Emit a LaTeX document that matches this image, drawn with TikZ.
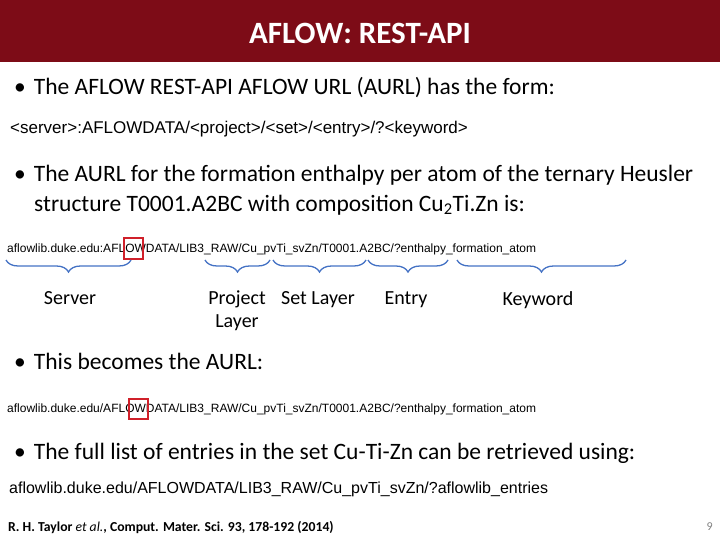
\documentclass[tikz,border=0pt]{standalone}
\usepackage{fontspec}
\setmainfont{Carlito}
\newfontfamily\urlf{Liberation Sans}
\usetikzlibrary{decorations.pathreplacing}
\definecolor{titlered}{HTML}{7D0C17}
\definecolor{braceblue}{HTML}{4472C4}
\definecolor{boxred}{HTML}{D0202A}
\begin{document}
\begin{tikzpicture}[x=1pt,y=-1pt,
  bul/.style={anchor=west,font=\fontsize{23.5}{30}\selectfont,inner sep=0},
  url/.style={anchor=west,font=\urlf\fontsize{12}{13}\selectfont,inner sep=0},
  urlbig/.style={anchor=west,font=\urlf\fontsize{16}{18}\selectfont,inner sep=0},
  lab/.style={anchor=north,font=\fontsize{20}{23}\selectfont,inner sep=0,align=center,text depth=0pt},
  br/.style={draw=braceblue,line width=1.3pt,decorate,decoration={brace,mirror,amplitude=12pt}},
  rbox/.style={draw=boxred,line width=2pt}]
\useasboundingbox (0,0) rectangle (720,540);
\fill[titlered] (0,0) rectangle (720,62);
\node[font=\bfseries\fontsize{31}{34}\selectfont,text=white] (title) at (360,33) {AFLOW: REST-API};
\node[bul] (b1) at (14,88) {\textbullet\hspace{8pt}The AFLOW REST-API AFLOW URL (AURL) has the form:};
\node[anchor=west,inner sep=0,font=\urlf\fontsize{17}{18}\selectfont] (u1) at (10,129) {<server>:AFLOWDATA/<project>/<set>/<entry>/?<keyword>};
\node[bul,align=left] (b2) at (14,190) {\textbullet\hspace{8pt}The AURL for the formation enthalpy per atom of the ternary Heusler\\\hspace{20pt}structure T0001.A2BC with composition Cu\textsubscript{2}Ti.Zn is:};
\node[url] (u2) at (7,249) {aflowlib.duke.edu:AFLOWDATA/LIB3\_RAW/Cu\_pvTi\_svZn/T0001.A2BC/?enthalpy\_formation\_atom};
\draw[rbox] (124,238) rectangle (143,259);
\coordinate (s1) at (6,260); \coordinate (s2) at (131,260);
\coordinate (p1) at (205,260); \coordinate (p2) at (270,260);
\coordinate (l1) at (273,260); \coordinate (l2) at (366,260);
\coordinate (e1) at (368,260); \coordinate (e2) at (448,260);
\coordinate (k1) at (457,260); \coordinate (k2) at (626,260);
\draw[br] (s1) -- (s2);
\draw[br] (p1) -- (p2);
\draw[br] (l1) -- (l2);
\draw[br] (e1) -- (e2);
\draw[br] (k1) -- (k2);
\node[lab] (ls) at (70,291) {Server};
\node[lab] (lp) at (237,291) {Project\\Layer};
\node[lab] (ll) at (318,291) {Set Layer};
\node[lab] (le) at (406,291) {Entry};
\node[lab] (lk) at (538,291) {Keyword};
\node[bul] (b3) at (14,361) {\textbullet\hspace{8pt}This becomes the AURL:};
\node[url] (u3) at (7,409) {aflowlib.duke.edu/AFLOWDATA/LIB3\_RAW/Cu\_pvTi\_svZn/T0001.A2BC/?enthalpy\_formation\_atom};
\draw[rbox] (129,399) rectangle (148,419);
\node[bul] (b4) at (14,453) {\textbullet\hspace{8pt}The full list of entries in the set Cu-Ti-Zn can be retrieved using:};
\node[urlbig] (u4) at (9,489) {aflowlib.duke.edu/AFLOWDATA/LIB3\_RAW/Cu\_pvTi\_svZn/?aflowlib\_entries};
\node[anchor=west,inner sep=0,font=\fontsize{13.7}{15}\selectfont] (ref) at (8,527) {\textbf{R. H. Taylor} \textit{et al.}\textbf{, Comput. Mater. Sci. 93, 178-192 (2014)}};
\node[anchor=east,inner sep=0,font=\fontsize{12}{14}\selectfont,text=gray] (pg) at (713,527) {9};
\end{tikzpicture}
\end{document}
